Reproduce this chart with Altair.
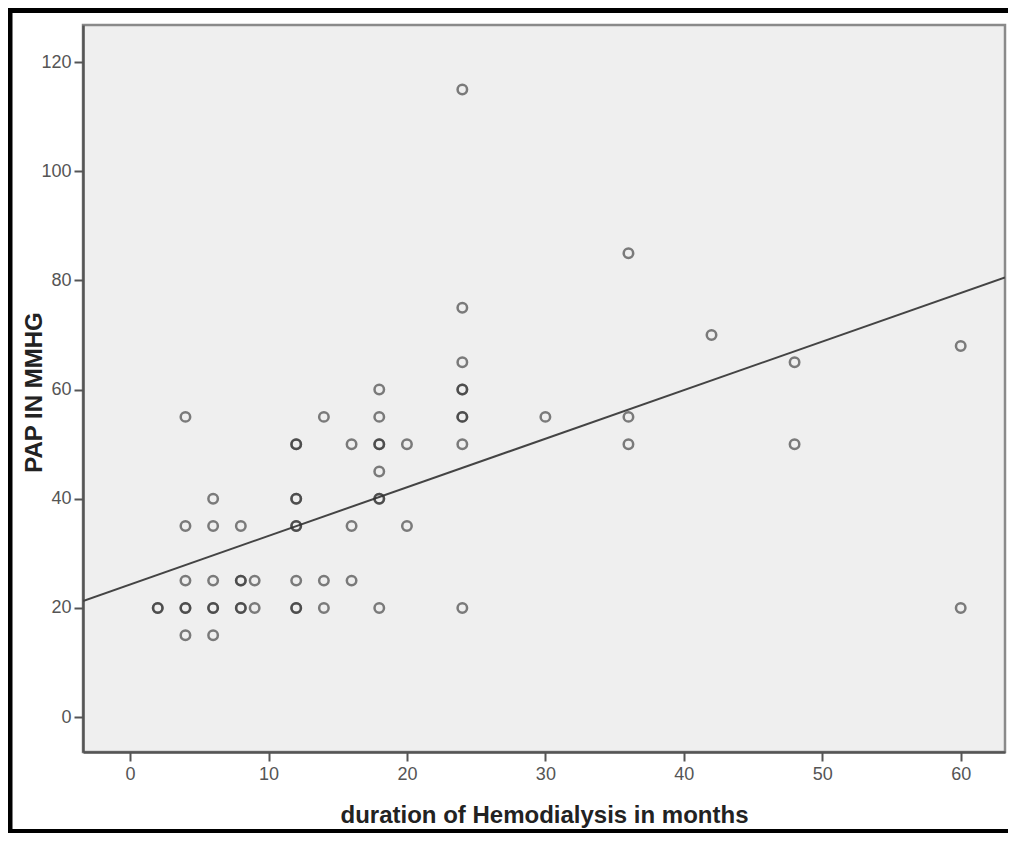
import altair as alt
import pandas as pd

# ---- data (overlapping circles repeated) ----
duration_months = [
    2, 2,
    4, 4, 4, 4, 4, 4,
    6, 6, 6, 6, 6, 6,
    8, 8, 8, 8, 8,
    9, 9,
    12, 12, 12, 12, 12, 12, 12, 12, 12,
    14, 14, 14,
    16, 16, 16,
    18, 18, 18, 18, 18, 18, 18, 18,
    20, 20,
    24, 24, 24, 24, 24, 24, 24, 24, 24,
    30,
    36, 36, 36,
    42,
    48, 48,
    60, 60,
]
pap_mmhg = [
    20, 20,
    55, 35, 25, 20, 20, 15,
    40, 35, 25, 20, 20, 15,
    35, 25, 25, 20, 20,
    25, 20,
    50, 50, 40, 40, 35, 35, 25, 20, 20,
    55, 25, 20,
    50, 35, 25,
    60, 55, 50, 50, 45, 40, 40, 20,
    50, 35,
    115, 75, 65, 60, 60, 55, 55, 50, 20,
    55,
    85, 55, 50,
    70,
    65, 50,
    68, 20,
]

# fitted line
fit_intercept = 24.3
fit_slope = 0.89

x_domain = [-3.4, 63.2]
y_domain = [-6.4, 126.8]
x_ticks = [0, 10, 20, 30, 40, 50, 60]
y_ticks = [0, 20, 40, 60, 80, 100, 120]

points = pd.DataFrame({"duration": duration_months, "pap": pap_mmhg})
line_df = pd.DataFrame({"duration": x_domain})

W, H = 922, 727
PAD = {"left": 75, "top": 17, "right": 3, "bottom": 81}

xscale = alt.Scale(domain=x_domain, nice=False, zero=False)
yscale = alt.Scale(domain=y_domain, nice=False, zero=False)

xaxis = alt.Axis(
    values=x_ticks, grid=False, title="duration of Hemodialysis in months",
    tickSize=9, tickWidth=2, tickColor="#555", domainColor="#555", domainWidth=2.5,
    labelFont="Liberation Sans", labelFontSize=18, labelColor="#555", labelPadding=4,
    titleFont="Liberation Sans", titleFontSize=24, titleFontWeight="bold", titleColor="#222",
    titleBaseline="alphabetic", titleY=70,
)
yaxis = alt.Axis(
    values=y_ticks, grid=False, title="PAP IN MMHG",
    tickSize=9, tickWidth=2, tickColor="#555", domainColor="#555", domainWidth=2.5,
    labelFont="Liberation Sans", labelFontSize=18, labelColor="#555", labelPadding=3,
    titleFont="Liberation Sans", titleFontSize=24, titleFontWeight="bold", titleColor="#222",
    titleBaseline="alphabetic", titleAngle=270, titleAlign="center", titleX=-42, titleY=367,
)

pts = alt.Chart(points).mark_point(
    shape="circle", filled=False, size=90, strokeWidth=2.5, color="#333", opacity=0.62
).encode(
    x=alt.X("duration:Q", scale=xscale, axis=xaxis),
    y=alt.Y("pap:Q", scale=yscale, axis=yaxis),
)

fit = alt.Chart(line_df).transform_calculate(
    pap=f"{fit_intercept} + {fit_slope} * datum.duration"
).mark_line(color="#444", strokeWidth=2, clip=True).encode(
    x=alt.X("duration:Q", scale=xscale),
    y=alt.Y("pap:Q", scale=yscale),
)

frame_data = alt.Data(values=[{"k": 1}])
total_h = PAD["top"] + H + PAD["bottom"]
left_rule = alt.Chart(frame_data).mark_rule(color="black", strokeWidth=5).encode(
    x=alt.value(-73), y=alt.value(-PAD["top"]), y2=alt.value(total_h - PAD["top"]))
top_rule = alt.Chart(frame_data).mark_rule(color="black", strokeWidth=5).encode(
    y=alt.value(-14.5), x=alt.value(-PAD["left"]), x2=alt.value(W + PAD["right"] + 20))
bottom_rule = alt.Chart(frame_data).mark_rule(color="black", strokeWidth=4).encode(
    y=alt.value(total_h - PAD["top"] - 2), x=alt.value(-PAD["left"]), x2=alt.value(W + PAD["right"] + 20))

chart = alt.layer(fit, pts, left_rule, top_rule, bottom_rule).properties(
    width=W, height=H, padding=PAD, autosize=alt.AutoSizeParams(type="none"),
    background="white",
).configure_view(
    fill="#efefef", stroke="#8a8a8a", strokeWidth=2.5,
)

chart.save("out.html", embed_options={"renderer": "svg", "actions": False})
